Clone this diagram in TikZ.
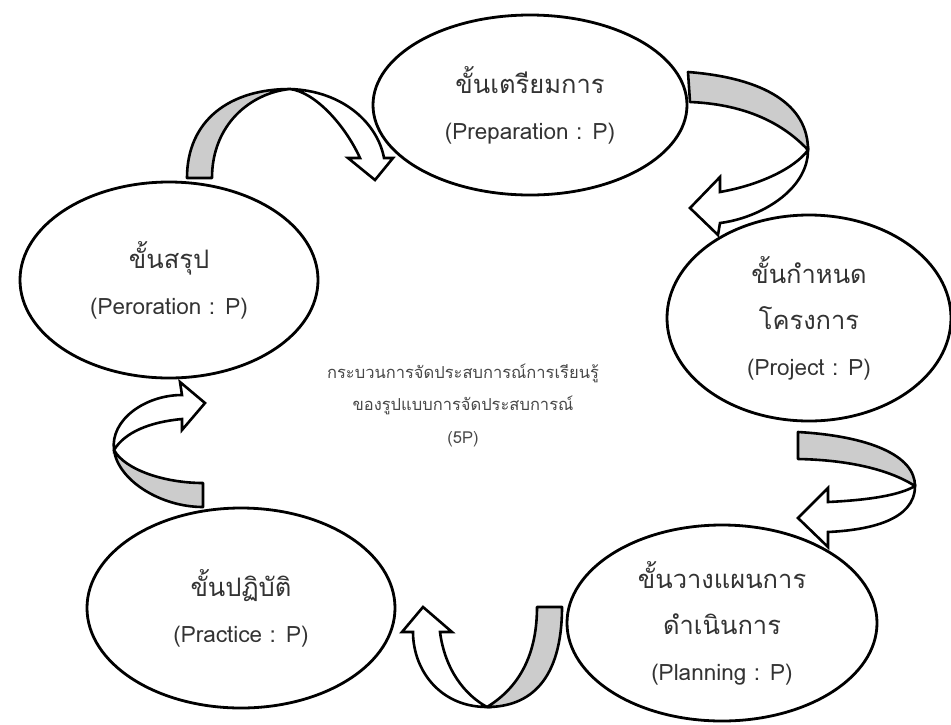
\documentclass[tikz,border=0pt]{standalone}
\usepackage{fontspec}
\newfontfamily\thaifont[Script=Thai]{Loma}
\usetikzlibrary{shapes.geometric}
\definecolor{ribbon}{gray}{0.80}
\definecolor{txt}{gray}{0.2}
\definecolor{ctxt}{gray}{0.28}
\newcommand{\latn}[1]{{\fontsize{22.5}{46}\selectfont #1}}
\tikzset{
  stage/.style={ellipse, draw=black, line width=2.8pt, fill=white, inner sep=0pt,
    align=center, text=txt, font=\thaifont\fontsize{25.5}{46}\selectfont},
  backface/.style={fill=ribbon, draw=black, line width=2.6pt, line join=round},
  frontface/.style={fill=white, draw=black, line width=2.6pt, line join=miter},
  title/.style={align=center, text=ctxt, font=\thaifont\fontsize{16.5}{32.5}\selectfont}
}
\begin{document}
\begin{tikzpicture}[x=1pt,y=-1pt]
\useasboundingbox (0,0) rectangle (951,724);

% stages
\node[stage, minimum width=314pt, minimum height=180pt] (prep) at (530,105)
  {ขั้นเตรียมการ\\\latn{(Preparation : P)}};
\node[stage, minimum width=298pt, minimum height=196pt] (pero) at (169,280)
  {ขั้นสรุป\\\latn{(Peroration : P)}};
\node[stage, minimum width=284pt, minimum height=206pt] (proj) at (809,318)
  {ขั้นกำหนด\\โครงการ\\\latn{(Project : P)}};
\node[stage, minimum width=310pt, minimum height=196pt] (plan) at (722,623)
  {ขั้นวางแผนการ\\ดำเนินการ\\\latn{(Planning : P)}};
\node[stage, minimum width=308pt, minimum height=200pt] (prac) at (241,608)
  {ขั้นปฏิบัติ\\\latn{(Practice : P)}};

% centre text
\node[title] (core) at (463,405)
  {กระบวนการจัดประสบการณ์การเรียนรู้\\ของรูปแบบการจัดประสบการณ์\\(5P)};

% arrow: Peroration -> Preparation
\draw[backface] (187,178) .. controls (187,120) and (230,89) .. (290,89)
  .. controls (250,93) and (212,125) .. (212,178) -- cycle;
\draw[frontface] (290,89) .. controls (345,91) and (378,125) .. (384,158)
  -- (393,158) -- (375,180) -- (348,158) -- (360,158)
  .. controls (345,125) and (315,92) .. (290,89) -- cycle;

% arrow: Preparation -> Project
\draw[backface] (688,72) .. controls (765,78) and (808,105) .. (808,150)
  .. controls (780,120) and (740,104) .. (690,102) -- cycle;
\draw[frontface] (808,150) .. controls (808,190) and (760,218) .. (720,223)
  -- (718,235) -- (690,208) -- (720,177) -- (720,192)
  .. controls (760,185) and (795,168) .. (808,150) -- cycle;

% arrow: Project -> Planning
\draw[backface] (798,432) .. controls (868,436) and (915,455) .. (915,486)
  .. controls (890,470) and (850,460) .. (798,459) -- cycle;
\draw[frontface] (915,486) .. controls (915,520) and (870,530) .. (828,532)
  -- (828,547) -- (798,518) -- (828,488) -- (828,502)
  .. controls (870,500) and (900,495) .. (915,486) -- cycle;

% arrow: Planning -> Practice
\draw[backface] (562,607) .. controls (562,680) and (530,707) .. (487,707)
  .. controls (515,690) and (537,660) .. (537,607) -- cycle;
\draw[frontface] (487,707) .. controls (440,707) and (413,670) .. (413,632)
  -- (402,632) -- (423,607) -- (452,632) -- (440,632)
  .. controls (445,670) and (465,695) .. (487,707) -- cycle;

% arrow: Practice -> Peroration
\draw[backface] (203,483) .. controls (165,483) and (125,470) .. (114,450)
  .. controls (118,480) and (160,507) .. (203,507) -- cycle;
\draw[frontface] (114,450) .. controls (110,420) and (145,395) .. (182,395)
  -- (180,382) -- (205,403) -- (182,430) -- (182,419)
  .. controls (150,422) and (125,432) .. (114,450) -- cycle;
\end{tikzpicture}
\end{document}
